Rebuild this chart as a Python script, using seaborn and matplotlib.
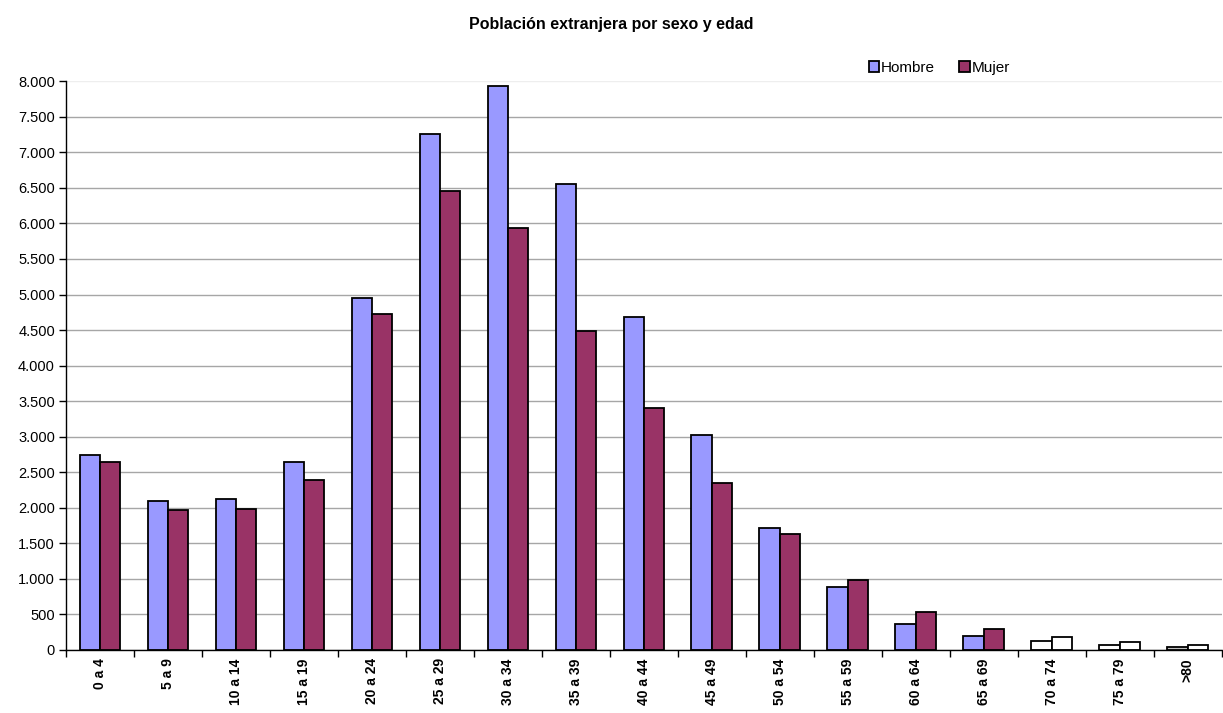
import pandas as pd
import numpy as np
import matplotlib.pyplot as plt
import seaborn as sns
from matplotlib.ticker import FuncFormatter, FixedLocator
from matplotlib.patches import Patch

# datos
grupos = ['0 a 4', '5 a 9', '10 a 14', '15 a 19', '20 a 24', '25 a 29', '30 a 34',
          '35 a 39', '40 a 44', '45 a 49', '50 a 54', '55 a 59', '60 a 64', '65 a 69',
          '70 a 74', '75 a 79', '>80']
hombre = [2740, 2090, 2120, 2650, 4950, 7260, 7930, 6560, 4690, 3030, 1710, 880, 360, 200, 130, 70, 40]
mujer = [2650, 1970, 1980, 2390, 4730, 6450, 5940, 4490, 3410, 2350, 1630, 980, 530, 290, 180, 110, 70]
series = ['Hombre', 'Mujer']

df = pd.DataFrame({'grupo': grupos * 2,
                   'sexo': ['Hombre'] * len(grupos) + ['Mujer'] * len(grupos),
                   'valor': hombre + mujer})

sns.set_theme(style="white")
plt.rcParams['font.family'] = ['Liberation Sans', 'DejaVu Sans']
plt.rcParams['text.color'] = 'black'
plt.rcParams['xtick.color'] = 'black'
plt.rcParams['ytick.color'] = 'black'

colores = {'Hombre': '#9999FF', 'Mujer': '#993366'}

fig = plt.figure(figsize=(12.23, 7.13), dpi=100)
ax = fig.add_axes([0.054, 0.0884, 0.945, 0.7976])

sns.barplot(data=df, x='grupo', y='valor', hue='sexo', order=grupos, hue_order=series,
            palette=colores, saturation=1, width=0.6, edgecolor='black', linewidth=1.3,
            legend=False, ax=ax, errorbar=None)

# las tres ultimas edades aparecen sin relleno en el original
n = len(grupos)
for k, p in enumerate(ax.patches):
    idx = k % n
    if idx >= n - 3:
        p.set_facecolor('white')
        if idx == n - 1 and k < n:
            p.set_facecolor('#c0c0c0')

ax.set_ylim(0, 8000)
ax.set_xlim(-0.5, n - 0.5)
ax.set_yticks(np.arange(0, 8001, 500))
ax.yaxis.set_major_formatter(FuncFormatter(lambda v, _: f'{int(v):,}'.replace(',', '.')))
ax.grid(axis='y', color='#a6a6a6', linewidth=1)
ax.set_axisbelow(True)
ax.get_ygridlines()[-1].set_color('#eeeeee')

ax.set_xticks(range(n))
ax.set_xticklabels(grupos, rotation=90, fontweight='bold', fontsize=10)
ax.xaxis.set_minor_locator(FixedLocator(np.arange(-0.5, n, 1)))
ax.tick_params(axis='x', which='major', length=0, pad=6)
ax.tick_params(axis='x', which='minor', length=5, width=1, color='black', direction='out', bottom=True)
ax.tick_params(axis='y', length=5, width=1, color='black', direction='out', left=True, labelsize=10.5, pad=3)
ax.set_xlabel('')
ax.set_ylabel('')

for s in ['top', 'right']:
    ax.spines[s].set_visible(False)
for s in ['left', 'bottom']:
    ax.spines[s].set_color('black')
    ax.spines[s].set_linewidth(1)

fig.text(0.5, 0.965, 'Población extranjera por sexo y edad', ha='center', va='center',
         fontsize=11.5, fontweight='bold')

handles = [Patch(facecolor=colores[s], edgecolor='black', linewidth=1.3, label=s) for s in series]
fig.legend(handles=handles, loc='center', bbox_to_anchor=(0.768, 0.905), ncol=2, frameon=False,
           fontsize=11, handlelength=0.7, handleheight=0.7, handletextpad=0.1, columnspacing=1.6)

plt.savefig('out.png', dpi=100, facecolor='white')
